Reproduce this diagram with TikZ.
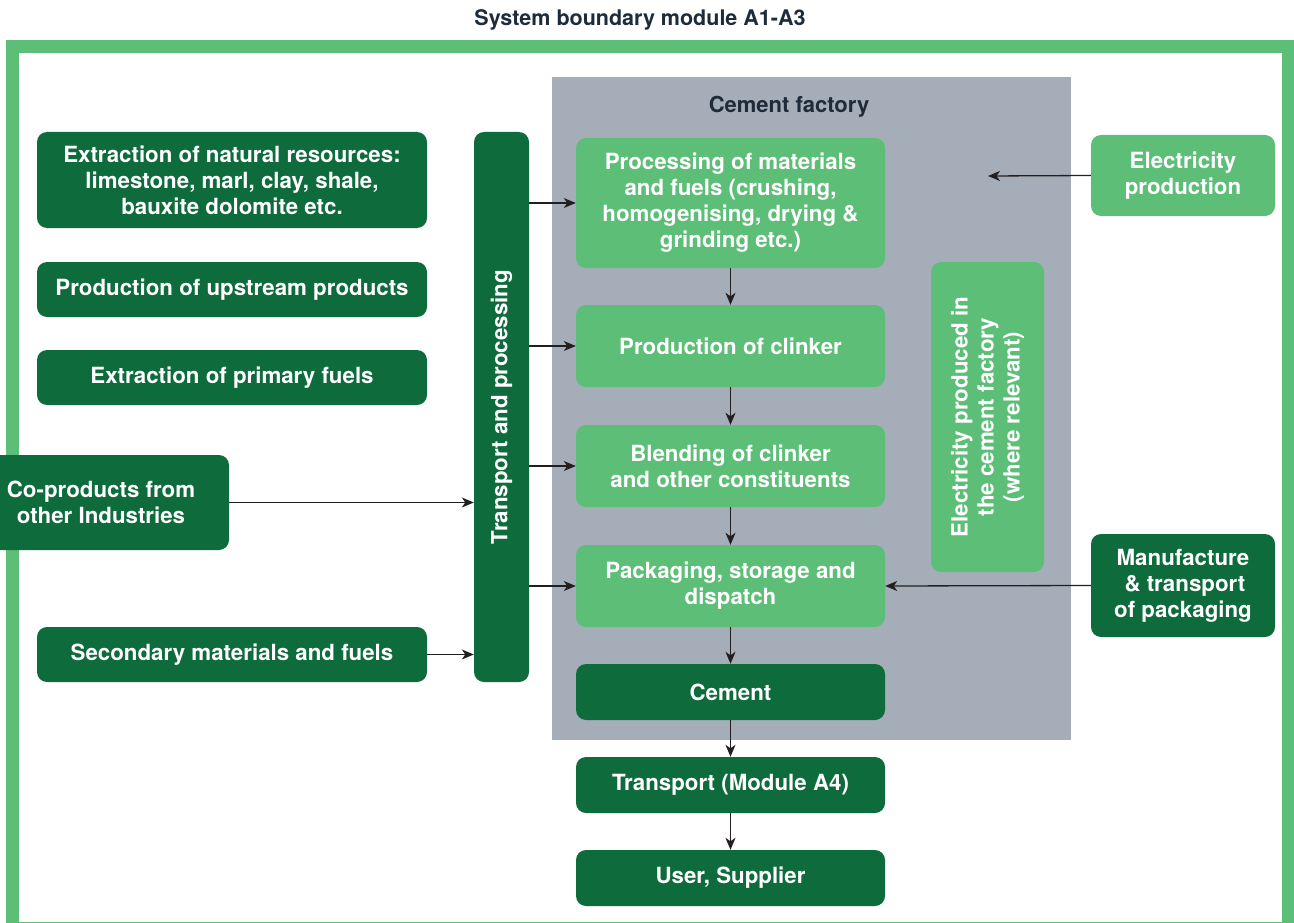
\documentclass[tikz,border=0pt]{standalone}
\usepackage{fontspec}
\setmainfont{TeX Gyre Heros}
\usetikzlibrary{arrows.meta}
\definecolor{dkgreen}{HTML}{0E6B3C}
\definecolor{ltgreen}{HTML}{5DBE77}
\definecolor{factgray}{HTML}{A5AEB8}
\definecolor{titlecol}{HTML}{1D2B3A}
\definecolor{arrcol}{HTML}{231F20}
\tikzset{
  box/.style={rounded corners=10pt, inner sep=0pt, align=center, text=white,
    font=\fontsize{22.3}{26}\selectfont\bfseries},
  dark/.style={box, fill=dkgreen},
  light/.style={box, fill=ltgreen},
  flow/.style={draw=arrcol, line width=1.3pt, -{Stealth[length=12pt,width=10pt,inset=3.5pt]}},
}
\begin{document}
\begin{tikzpicture}[x=1pt,y=-1pt]
\useasboundingbox (0,0) rectangle (1294,923);
% boundary frame
\draw[ltgreen, line width=13pt] (12.5,47) rectangle (1288.5,928);
\node[text=titlecol, font=\fontsize{21.5}{24}\selectfont\bfseries] (title) at (640,20) {System boundary module A1-A3};
% factory background
\fill[factgray] (552,77) rectangle (1071,740);
\node[text=titlecol, font=\fontsize{22}{24}\selectfont\bfseries] (fact) at (789,107) {Cement factory};
% left column
\node[dark, minimum width=390pt, minimum height=96pt] (ext) at (232,180) {Extraction of natural resources:\\limestone, marl, clay, shale,\\bauxite dolomite etc.};
\node[dark, minimum width=390pt, minimum height=55pt] (up) at (232,289.5) {Production of upstream products};
\node[dark, minimum width=390pt, minimum height=55pt] (prim) at (232,377.5) {Extraction of primary fuels};
\node[dark, minimum width=256pt, minimum height=95pt] (cop) at (101,502.5) {Co-products from\\other Industries};
\node[dark, minimum width=390pt, minimum height=55pt] (sec) at (232,654.5) {Secondary materials and fuels};
\node[dark, rotate=90, minimum width=550pt, minimum height=55pt] (trans) at (501.5,407) {Transport and processing};
% centre column
\node[light, minimum width=309pt, minimum height=130pt] (proc) at (730.5,203) {Processing of materials\\and fuels (crushing,\\homogenising, drying \&\\grinding etc.)};
\node[light, minimum width=309pt, minimum height=82pt] (clink) at (730.5,346) {Production of clinker};
\node[light, minimum width=309pt, minimum height=82pt] (blend) at (730.5,466) {Blending of clinker\\and other constituents};
\node[light, minimum width=309pt, minimum height=82pt] (pack) at (730.5,586) {Packaging, storage and\\dispatch};
\node[dark, minimum width=309pt, minimum height=56pt] (cement) at (730.5,692) {Cement};
\node[dark, minimum width=309pt, minimum height=56pt] (a4) at (730.5,785) {Transport (Module A4)};
\node[dark, minimum width=309pt, minimum height=56pt] (user) at (730.5,878) {User, Supplier};
% right side
\node[light, rotate=90, minimum width=310pt, minimum height=113pt] (elecf) at (987.5,417) {Electricity produced in\\the cement factory\\(where relevant)};
\node[light, minimum width=184pt, minimum height=81pt] (elecp) at (1183,175.5) {Electricity\\production};
\node[dark, minimum width=184pt, minimum height=103pt] (manu) at (1183,585.5) {Manufacture\\\,\& transport\\of packaging};
\coordinate (elecin) at (988,176);
% connectors
\draw[flow] (trans.south |- proc.west) -- (proc.west);
\draw[flow] (trans.south |- clink.west) -- (clink.west);
\draw[flow] (trans.south |- blend.west) -- (blend.west);
\draw[flow] (trans.south |- pack.west) -- (pack.west);
\draw[flow] (cop.east) -- (cop.east -| trans.north);
\draw[flow] (sec.east) -- (sec.east -| trans.north);
\draw[flow] (proc) -- (clink);
\draw[flow] (clink) -- (blend);
\draw[flow] (blend) -- (pack);
\draw[flow] (pack) -- (cement);
\draw[flow] (cement) -- (a4);
\draw[flow] (a4) -- (user);
\draw[flow] (elecp.west) -- (elecin);
\draw[flow] (manu.west) -- (pack.east);
\end{tikzpicture}
\end{document}
